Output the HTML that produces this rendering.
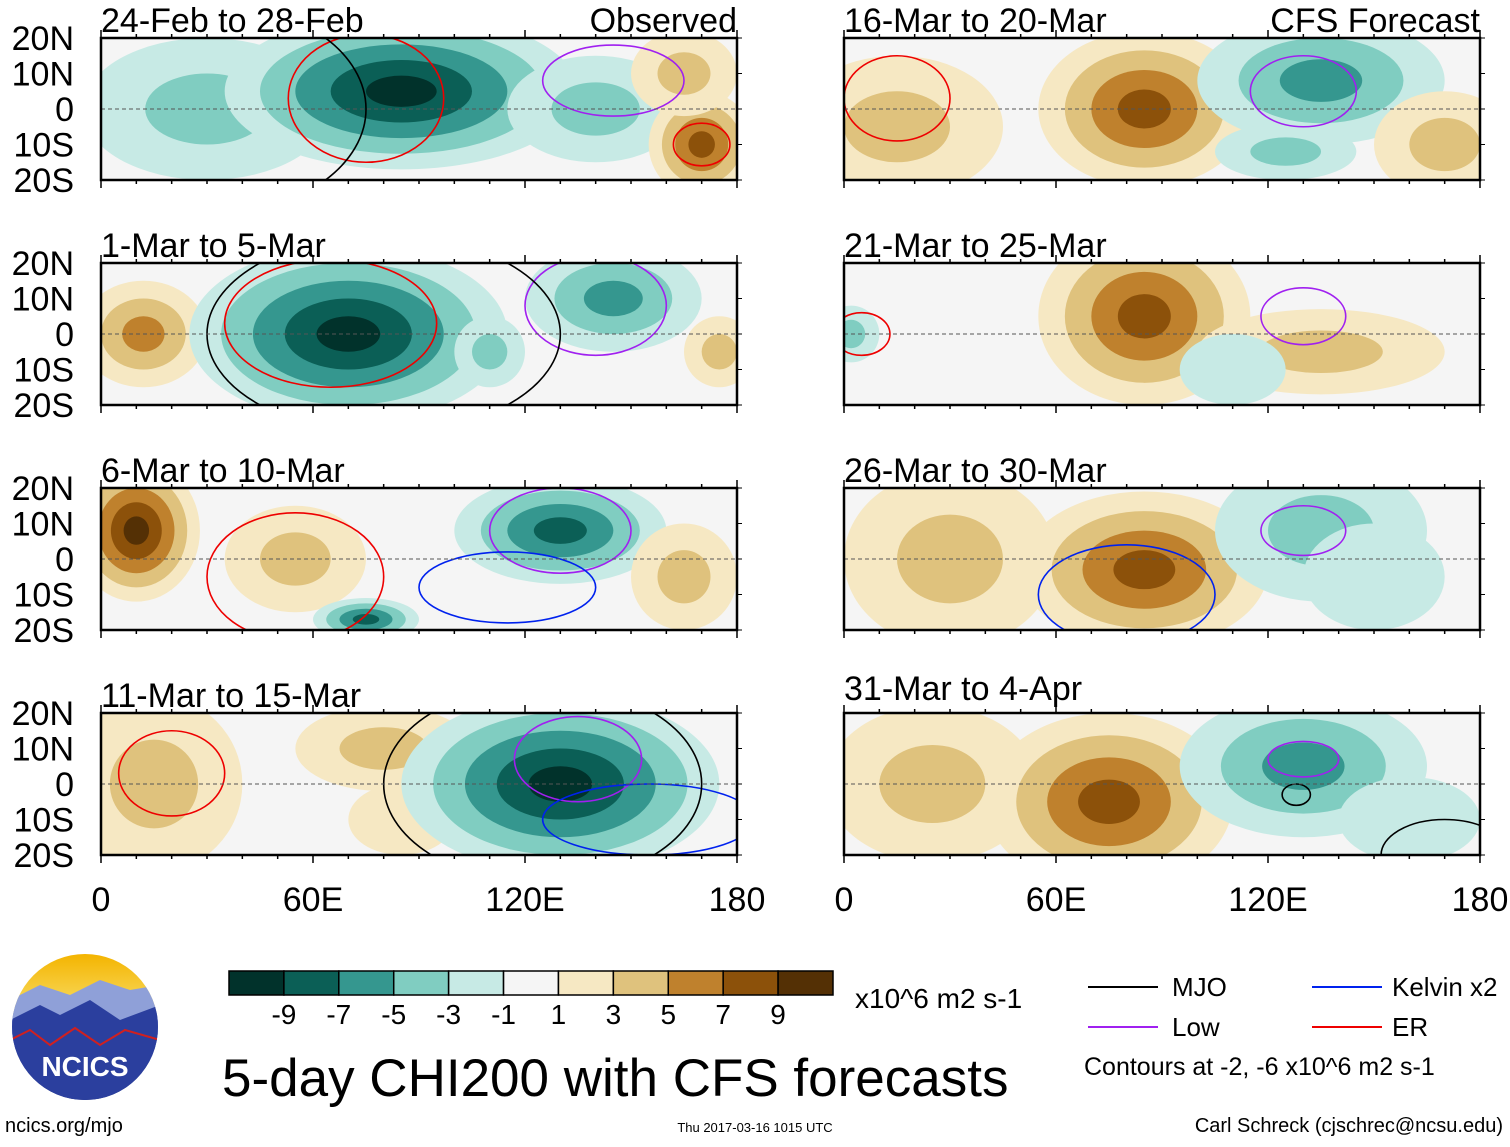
<!DOCTYPE html>
<html><head><meta charset="utf-8">
<style>
body{margin:0;background:#fff;font-family:"Liberation Sans",Arial,sans-serif;}
svg text{font-family:"Liberation Sans",Arial,sans-serif;}
</style></head>
<body>
<svg id="chart" width="1510" height="1142" viewBox="0 0 1510 1142" xmlns="http://www.w3.org/2000/svg">
<defs>
<linearGradient id="sky" x1="0" y1="0" x2="0" y2="1">
<stop offset="0" stop-color="#f4b400"/><stop offset="0.35" stop-color="#f7d85a"/><stop offset="0.45" stop-color="#5a6fb8"/><stop offset="1" stop-color="#0c1f6b"/>
</linearGradient>
<clipPath id="logoclip"><circle cx="85" cy="1027" r="73"/></clipPath>
</defs>
<g id="panels"></g>
<g id="colorbar"></g>
<text x="855" y="1008" font-size="28">x10^6 m2 s-1</text>
<text x="222" y="1096" font-size="53">5-day CHI200 with CFS forecasts</text>
<g>
<line x1="1088" y1="987" x2="1158" y2="987" stroke="#000" stroke-width="2"/><text x="1172" y="996" font-size="26">MJO</text>
<line x1="1312" y1="987" x2="1382" y2="987" stroke="#0022ee" stroke-width="2"/><text x="1392" y="996" font-size="26">Kelvin x2</text>
<line x1="1088" y1="1027" x2="1158" y2="1027" stroke="#a020f0" stroke-width="2"/><text x="1172" y="1036" font-size="26">Low</text>
<line x1="1312" y1="1027" x2="1382" y2="1027" stroke="#ee0000" stroke-width="2"/><text x="1392" y="1036" font-size="26">ER</text>
<text x="1084" y="1075" font-size="25">Contours at -2, -6 x10^6 m2 s-1</text>
</g>
<g>
<circle cx="85" cy="1027" r="73" fill="url(#sky)"/>
<g clip-path="url(#logoclip)">
<path d="M10 1000 L40 985 L70 995 L100 980 L130 990 L160 985 L160 1040 L10 1040Z" fill="#8fa0d8"/>
<path d="M10 1020 L40 1005 L60 1015 L90 1000 L120 1020 L160 1005 L160 1110 L10 1110Z" fill="#2b3f9e"/>
<path d="M10 1040 L30 1030 L50 1045 L75 1028 L100 1045 L125 1030 L160 1040" fill="none" stroke="#d02020" stroke-width="2"/>
</g>
<text x="85" y="1076" font-size="28" font-weight="bold" fill="#fff" text-anchor="middle">NCICS</text>
</g>
<text x="5" y="1132" font-size="20">ncics.org/mjo</text>
<text x="755" y="1132" font-size="13" text-anchor="middle">Thu 2017-03-16 1015 UTC</text>
<text x="1503" y="1132" font-size="20" text-anchor="end">Carl Schreck (cjschrec@ncsu.edu)</text>
</svg>
<script>
const NS="http://www.w3.org/2000/svg";
const levelColors=["#01322b","#0b5f56","#35978f","#80cdc1","#c7eae5","#f5f5f5","#f6e8c3","#dfc27d","#bf812d","#8c510a","#543005"];
const levelLabels=["-9","-7","-5","-3","-1","1","3","5","7","9"];
const latTicks=["20N","10N","0","10S","20S"];
const lonTicks=["0","60E","120E","180"];
const panelTitles=["24-Feb to 28-Feb","1-Mar to 5-Mar","6-Mar to 10-Mar","11-Mar to 15-Mar","16-Mar to 20-Mar","21-Mar to 25-Mar","26-Mar to 30-Mar","31-Mar to 4-Apr"];
// blobs: [lon, lat, lonRadius, latRadius, peak value]
const blobsP1=[[30,0,35,20,-3],[85,5,50,22,-9],[140,0,25,15,-3],[170,-10,15,15,7],[165,10,15,12,3]];
const blobsP2=[[12,0,18,15,5],[70,0,45,25,-9],[145,10,25,15,-5],[175,-5,10,10,3],[110,-5,10,10,-3]];
const blobsP3=[[10,8,18,20,9],[55,0,20,15,3],[130,8,30,15,-7],[75,-17,15,6,-7],[165,-5,15,15,3]];
const blobsP4=[[15,0,25,25,3],[80,10,25,12,3],[85,-10,15,10,1],[130,0,45,25,-9]];
const blobsP5=[[15,-5,30,20,3],[85,0,30,22,7],[135,8,35,18,-5],[170,-10,20,15,3],[125,-12,20,8,-3]];
const blobsP6=[[85,5,30,25,7],[135,-5,35,12,3],[2,0,8,8,-3],[110,-10,15,10,-1]];
const blobsP7=[[30,0,30,25,3],[85,-3,35,22,7],[135,8,30,20,-3],[150,-5,20,15,-1]];
const blobsP8=[[25,0,30,22,3],[75,-5,35,25,7],[130,5,35,20,-5],[160,-10,20,12,-1]];
const blobSets=[blobsP1,blobsP2,blobsP3,blobsP4,blobsP5,blobsP6,blobsP7,blobsP8];
// contours: [lon, lat, lonRadius, latRadius, type]
const contoursP1=[[75,3,22,18,"er"],[145,8,20,10,"low"],[30,0,45,30,"mjo"],[170,-10,8,6,"er"]];
const contoursP2=[[65,3,30,18,"er"],[140,8,20,14,"low"],[80,0,50,28,"mjo"]];
const contoursP3=[[55,-5,25,18,"er"],[130,8,20,12,"low"],[115,-8,25,10,"kelvin"]];
const contoursP4=[[20,3,15,12,"er"],[135,7,18,12,"low"],[155,-10,30,10,"kelvin"],[125,0,45,28,"mjo"]];
const contoursP5=[[15,3,15,12,"er"],[130,5,15,10,"low"]];
const contoursP6=[[5,0,8,6,"er"],[130,5,12,8,"low"]];
const contoursP7=[[80,-10,25,14,"kelvin"],[130,8,12,7,"low"]];
const contoursP8=[[130,7,10,5,"low"],[128,-3,4,3,"mjo"],[170,-20,18,10,"mjo"]];
const contourSets=[contoursP1,contoursP2,contoursP3,contoursP4,contoursP5,contoursP6,contoursP7,contoursP8];
const contourColor={mjo:"#000",low:"#a020f0",kelvin:"#0022ee",er:"#ee0000"};

const PW=636,PH=142;
const lefts=[101,101,101,101,844,844,844,844];
const tops=[38,263,488,713,38,263,488,713];
function colorFor(v){
  if(v<0){const idx=Math.min(4,Math.floor((-v-1)/2));return levelColors[4-idx];}
  const idx=Math.min(4,Math.floor((v-1)/2));return levelColors[6+idx];
}
const panels=document.getElementById("panels");
for(let p=0;p<8;p++){
  const x0=lefts[p],y0=tops[p];
  const xs=lon=>x0+lon/180*PW, ys=lat=>y0+(20-lat)/40*PH;
  const g=document.createElementNS(NS,"g");
  
  
  const cid="clip"+p;
  const cp=document.createElementNS(NS,"clipPath");cp.setAttribute("id",cid);
  const cr=document.createElementNS(NS,"rect");cr.setAttribute("x",x0);cr.setAttribute("y",y0);cr.setAttribute("width",PW);cr.setAttribute("height",PH);
  cp.appendChild(cr);g.appendChild(cp);
  const bg=document.createElementNS(NS,"rect");bg.setAttribute("x",x0);bg.setAttribute("y",y0);bg.setAttribute("width",PW);bg.setAttribute("height",PH);bg.setAttribute("fill","#f5f5f5");g.appendChild(bg);
  const inner=document.createElementNS(NS,"g");inner.setAttribute("clip-path","url(#"+cid+")");
  blobSets[p].forEach(b=>{
    const [lon,lat,rl,rt,v]=b;const n=Math.ceil(Math.abs(v)/2);const s=Math.sign(v);
    for(let k=0;k<n;k++){
      const f=1-k/n;
      const e=document.createElementNS(NS,"ellipse");
      
      
      e.setAttribute("cx",xs(lon));e.setAttribute("cy",ys(lat));
      e.setAttribute("rx",rl/180*PW*f);e.setAttribute("ry",rt/40*PH*f);
      e.setAttribute("fill",colorFor(s*(2*k+1)));inner.appendChild(e);
    }
  });
  contourSets[p].forEach(c=>{
    const [lon,lat,rl,rt,t]=c;
    const e=document.createElementNS(NS,"ellipse");
    
    
    e.setAttribute("cx",xs(lon));e.setAttribute("cy",ys(lat));
    e.setAttribute("rx",rl/180*PW);e.setAttribute("ry",rt/40*PH);
    e.setAttribute("fill","none");e.setAttribute("stroke",contourColor[t]);e.setAttribute("stroke-width","1.6");inner.appendChild(e);
  });
  g.appendChild(inner);
  const eq=document.createElementNS(NS,"line");eq.setAttribute("x1",x0);eq.setAttribute("x2",x0+PW);eq.setAttribute("y1",ys(0));eq.setAttribute("y2",ys(0));eq.setAttribute("stroke","#555");eq.setAttribute("stroke-dasharray","4,3");g.appendChild(eq);
  const fr=document.createElementNS(NS,"rect");fr.setAttribute("x",x0);fr.setAttribute("y",y0);fr.setAttribute("width",PW);fr.setAttribute("height",PH);fr.setAttribute("fill","none");fr.setAttribute("stroke","#000");fr.setAttribute("stroke-width","2.5");g.appendChild(fr);
  for(let lon=0;lon<=180;lon+=10){
    const len=(lon%60===0)?8:4;
    [[y0,y0-len],[y0+PH,y0+PH+len]].forEach(([a,b])=>{const l=document.createElementNS(NS,"line");l.setAttribute("x1",xs(lon));l.setAttribute("x2",xs(lon));l.setAttribute("y1",a);l.setAttribute("y2",b);l.setAttribute("stroke","#000");l.setAttribute("stroke-width","1.5");g.appendChild(l);});
  }
  for(let lat=-20;lat<=20;lat+=10){
    const l=document.createElementNS(NS,"line");l.setAttribute("x1",x0+PW);l.setAttribute("x2",x0+PW+5);l.setAttribute("y1",ys(lat));l.setAttribute("y2",ys(lat));l.setAttribute("stroke","#000");g.appendChild(l);
  }
  if(p<4){
    latTicks.forEach((t,i)=>{const tx=document.createElementNS(NS,"text");
      
      
      tx.setAttribute("x",74);tx.setAttribute("y",ys(20-i*10)+12);tx.setAttribute("font-size","34");tx.setAttribute("text-anchor","end");tx.textContent=t;g.appendChild(tx);});
  }
  const tt=document.createElementNS(NS,"text");
  
  
  tt.setAttribute("x",x0);tt.setAttribute("y",y0-6 - (p===7?7:0));tt.setAttribute("font-size","34");tt.textContent=panelTitles[p];g.appendChild(tt);
  if(p===0||p===4){const tr=document.createElementNS(NS,"text");
    
    
    tr.setAttribute("x",x0+PW);tr.setAttribute("y",y0-6);tr.setAttribute("font-size","34");tr.setAttribute("text-anchor","end");tr.textContent=p===0?"Observed":"CFS Forecast";g.appendChild(tr);}
  if(p===3||p===7){
    lonTicks.forEach((t,i)=>{const tx=document.createElementNS(NS,"text");
      
      
      tx.setAttribute("x",xs(i*60));tx.setAttribute("y",911);tx.setAttribute("font-size","34");tx.setAttribute("text-anchor","middle");tx.textContent=t;g.appendChild(tx);});
  }
  panels.appendChild(g);
}
const cb=document.getElementById("colorbar");
const cbx=229,cbw=604/11;
levelColors.forEach((c,i)=>{const r=document.createElementNS(NS,"rect");
  
  
  r.setAttribute("x",cbx+i*cbw);r.setAttribute("y",971);r.setAttribute("width",cbw);r.setAttribute("height",24);r.setAttribute("fill",c);r.setAttribute("stroke","#000");r.setAttribute("stroke-width","1.5");cb.appendChild(r);});
levelLabels.forEach((t,i)=>{const tx=document.createElementNS(NS,"text");
  
  
  tx.setAttribute("x",cbx+(i+1)*cbw);tx.setAttribute("y",1024);tx.setAttribute("font-size","28");tx.setAttribute("text-anchor","middle");tx.textContent=t;cb.appendChild(tx);});
</script>
</body></html>
